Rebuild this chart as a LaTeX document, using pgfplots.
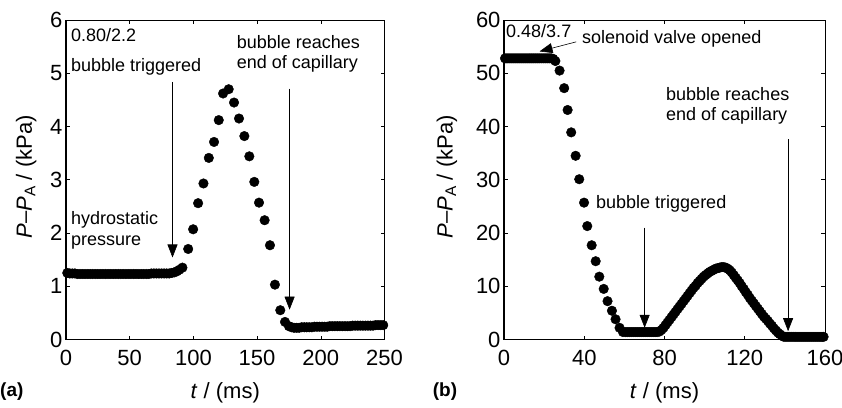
\documentclass[border=0pt]{standalone}
\usepackage{fontspec}
\setmainfont{Liberation Sans}
\usepackage{pgfplots}
\pgfplotsset{compat=1.18}
\usetikzlibrary{arrows.meta}

\newcommand{\ticksize}{\fontsize{22}{26}\selectfont}
\newcommand{\notesize}{\fontsize{18}{21}\selectfont}

\pgfplotsset{
  panel/.style={
    scale only axis, height=319.5pt, clip=false,
    axis line style={line width=0.7pt},
    tick style={black, line width=0.6pt},
    major tick length=4pt,
    tick label style={font=\ticksize},
    /pgf/number format/assume math mode=true,
    every axis y label/.style={at={(axis description cs:#1,0.509)}, rotate=90, anchor=center, font=\ticksize},
    every axis x label/.style={at={(axis description cs:0.5,-0.1847)}, anchor=base, font=\ticksize},
    xlabel={\textit{t} / (ms)},
    ylabel={\textit{P}–\textit{P}\textsubscript{A} / (kPa)},
    xticklabel style={yshift=-7pt},
  },
  dots/.style={only marks, mark=*, mark size=4.8pt, color=black,
    mark options={draw=black, fill=black}},
}
\tikzset{
  note/.style={font=\notesize, anchor=base west, inner sep=0pt},
  pointer/.style={-{Triangle[length=13pt,width=10pt]}, line width=0.6pt, black},
}

\begin{document}
\begin{tikzpicture}[x=1pt, y=1pt]
\useasboundingbox (0,0) rectangle (842,407);

% (a) 0.80/2.2
\begin{axis}[panel=-0.125, at={(66pt,67.5pt)}, anchor=south west, width=318.5pt,
  xmin=0, xmax=250, ymin=0, ymax=6, xtick={0,50,...,250}, ytick={0,1,...,6}]
\addplot[dots] coordinates {
 (1,1.25) (3,1.24) (5,1.24) (7,1.24) (9,1.23) (11,1.23) (13,1.23) (15,1.23)
 (17,1.23) (19,1.23) (21,1.23) (23,1.23) (25,1.23) (27,1.23) (29,1.23) (31,1.23)
 (33,1.23) (35,1.23) (37,1.23) (39,1.23) (41,1.23) (43,1.23) (45,1.23) (47,1.23)
 (49,1.23) (51,1.23) (53,1.23) (55,1.23) (57,1.23) (59,1.23) (61,1.23) (63,1.23)
 (65,1.23) (67,1.24) (69,1.24) (71,1.24) (73,1.24) (75,1.24) (77,1.24) (79,1.24)
 (81,1.24) (83,1.25) (85,1.26) (87,1.28) (89,1.31) (91.4,1.35)
 (95.9,1.70) (99.8,2.07) (103.7,2.56) (107.9,2.93) (112.1,3.41) (116.2,3.71)
 (119.9,4.12) (123.3,4.62) (127.7,4.70) (131.9,4.45) (135.8,4.15) (140.0,3.82)
 (143.9,3.44) (147.8,2.96) (151.5,2.57) (155.9,2.24) (160.1,1.77) (164.0,1.03)
 (168.2,0.55) (171.9,0.33)
 (175,0.25) (177,0.23) (179,0.22) (181,0.22) (183,0.22) (185,0.23) (187,0.23)
 (189,0.23) (191,0.23) (193,0.23) (195,0.24) (197,0.24) (199,0.24) (201,0.24)
 (203,0.24) (205,0.24) (207,0.25) (209,0.25) (211,0.25) (213,0.25) (215,0.25)
 (217,0.25) (219,0.25) (221,0.25) (223,0.25) (225,0.26) (227,0.26) (229,0.26)
 (231,0.26) (233,0.26) (235,0.26) (237,0.26) (239,0.26) (241,0.26) (243,0.27)
 (245,0.27) (247,0.27) (249,0.27)
};
\draw[line width=1.4pt] (rel axis cs:0,1) -- (rel axis cs:0,0) -- (rel axis cs:1,0);
\draw[pointer] (axis cs:83.6,4.84) -- (axis cs:83.6,1.54);
\draw[pointer] (axis cs:175.5,4.71) -- (axis cs:175.5,0.56);
\end{axis}

% (b) 0.48/3.7
\begin{axis}[panel=-0.178, at={(504pt,67.5pt)}, anchor=south west, width=321pt,
  xmin=0, xmax=160, ymin=0, ymax=60, xtick={0,40,...,160}, ytick={0,10,...,60}]
\addplot[dots] coordinates {
 (0.5,52.8) (1.5,52.8) (2.5,52.8) (3.5,52.8) (4.5,52.8) (5.5,52.8) (6.5,52.8)
 (7.5,52.8) (8.5,52.8) (9.5,52.8) (10.5,52.8) (11.5,52.8) (12.5,52.8) (13.5,52.8)
 (14.5,52.8) (15.5,52.8) (16.5,52.8) (17.5,52.8) (18.5,52.8) (19.5,52.8)
 (20.5,52.8) (21.5,52.8) (22.5,52.8) (23.5,52.8) (24.5,52.7) (25.6,52.3)
 (27.7,50.5) (30.0,47.2) (31.7,43.1) (33.5,38.9) (35.7,34.5) (37.5,30.1)
 (39.9,25.7) (41.5,21.3) (43.7,17.7) (45.7,14.7) (47.5,11.8) (49.7,9.5)
 (51.6,7.2) (53.8,5.4) (55.6,3.8) (57.6,2.2) (59.3,1.4)
 (60.5,1.4) (61.5,1.4) (62.5,1.4) (63.5,1.4) (64.5,1.4) (65.5,1.4) (66.5,1.4)
 (67.5,1.4) (68.5,1.4) (69.5,1.4) (70.5,1.4) (71.5,1.4) (72.5,1.4) (73.5,1.4)
 (74.5,1.4) (75.5,1.4) (76.5,1.4) (77.5,1.5)
 (78.5,1.8) (79.5,2.2) (80.5,2.7) (81.5,3.2) (82.5,3.7) (83.5,4.2) (84.5,4.7)
 (85.5,5.2) (86.5,5.7) (87.5,6.2) (88.5,6.7) (89.5,7.2) (90.5,7.7) (91.5,8.2)
 (92.5,8.7) (93.5,9.2) (94.5,9.7) (95.5,10.1) (96.5,10.6) (97.5,11.0)
 (98.5,11.4) (99.5,11.8) (100.5,12.1) (101.5,12.4) (102.5,12.7) (103.5,12.9)
 (104.5,13.1) (105.5,13.3) (106.5,13.4) (107.5,13.5) (108.5,13.6) (109.5,13.6)
 (110.5,13.5) (111.5,13.3) (112.5,13.0) (113.5,12.6) (114.5,12.1) (115.5,11.6)
 (116.5,11.1) (117.5,10.6) (118.5,10.0) (119.5,9.5) (120.5,8.9) (121.5,8.4)
 (122.5,7.8) (123.5,7.3) (124.5,6.8) (125.5,6.3) (126.5,5.8) (127.5,5.3)
 (128.5,4.8) (129.5,4.3) (130.5,3.9) (131.5,3.5) (132.5,3.0) (133.5,2.6)
 (134.5,2.1) (135.5,1.7) (136.5,1.3) (137.5,1.0) (138.5,0.7) (139.5,0.5)
 (140.5,0.5) (141.5,0.5) (142.5,0.5) (143.5,0.5) (144.5,0.5) (145.5,0.5)
 (146.5,0.5) (147.5,0.5) (148.5,0.5) (149.5,0.5) (150.5,0.5) (151.5,0.5)
 (152.5,0.5) (153.5,0.5) (154.5,0.5) (155.5,0.5) (156.5,0.5) (157.5,0.5)
 (158.5,0.5) (159.3,0.5)
};
\draw[line width=1.4pt] (rel axis cs:0,1) -- (rel axis cs:0,0) -- (rel axis cs:1,0);
\draw[pointer] (axis cs:36.0,55.9) -- (axis cs:17.7,54.1);
\draw[pointer] (axis cs:70.1,21.0) -- (axis cs:70.1,2.2);
\draw[pointer] (axis cs:141.6,37.6) -- (axis cs:141.6,1.56);
\end{axis}

% annotations (a)
\node[note] at (71,365.3) {0.80/2.2};
\node[note] at (71,335.3) {bubble triggered};
\node[note] at (236.7,358.7) {bubble reaches};
\node[note] at (236.7,338) {end of capillary};
\node[note] at (71,182) {hydrostatic};
\node[note] at (71,161.3) {pressure};
% annotations (b)
\node[note] at (506,369.7) {0.48/3.7};
\node[note] at (582,363) {solenoid valve opened};
\node[note] at (596,198.7) {bubble triggered};
\node[note] at (666,306.3) {bubble reaches};
\node[note] at (666,286.3) {end of capillary};
% panel letters
\node[anchor=base west, inner sep=0pt, font=\fontsize{19}{22}\selectfont\bfseries] at (0,11) {(a)};
\node[anchor=base west, inner sep=0pt, font=\fontsize{19}{22}\selectfont\bfseries] at (432.7,11) {(b)};
\end{tikzpicture}
\end{document}
